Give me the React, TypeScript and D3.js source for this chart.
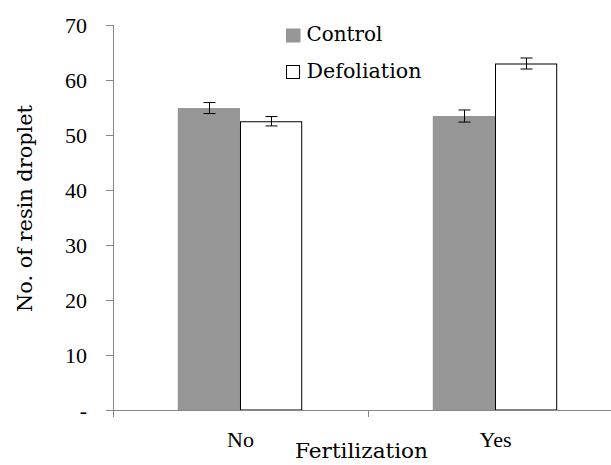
import React from "react";
import * as d3 from "d3";

const categories = ["No", "Yes"];
const seriesNames = ["Control", "Defoliation"];
const controlValues = [54.9, 53.45];
const defoliationValues = [52.5, 63.0];
const controlErrors = [1.0, 1.1];
const defoliationErrors = [0.85, 1.0];
const yTicks = [0, 10, 20, 30, 40, 50, 60, 70];
const yTickLabels = ["-", "10", "20", "30", "40", "50", "60", "70"];

const W = 611;
const H = 465;
const left = 113;
const top = 25;
const bottom = 410;

export default function App() {
  const y = d3.scaleLinear().domain([0, 70]).range([bottom, top]);
  const x0 = d3.scaleBand<string>().domain(categories).range([left, left + 510]).padding(0);
  const bw = x0.bandwidth();
  const x1 = d3.scaleBand<string>().domain(seriesNames).range([bw * 0.254, bw * 0.742]).padding(0);

  const series = [
    { name: "Control", values: controlValues, errors: controlErrors, fill: "#969696", stroke: "none" },
    { name: "Defoliation", values: defoliationValues, errors: defoliationErrors, fill: "#ffffff", stroke: "#000000" },
  ];

  const axisColor = "#878787";
  const tickFont: React.CSSProperties = { fontFamily: "Liberation Serif, Times New Roman, serif", fontSize: "22px" };
  const titleFont: React.CSSProperties = { fontFamily: "DejaVu Serif, Liberation Serif, serif", fontSize: "20.5px" };

  return (
    <svg width={W} height={H} style={{ position: "absolute", left: 0, top: 0, background: "#fff" }}>
      <rect x={0} y={0} width={W} height={H} fill="#fff" />
      {series.map((s) =>
        categories.map((c, i) => {
          const bx = (x0(c) as number) + (x1(s.name) as number);
          const bwid = x1.bandwidth();
          const by = y(s.values[i]);
          const o = s.stroke !== "none";
          return (
            <rect
              key={s.name + c}
              x={bx + (o ? 0.5 : 0)}
              y={by + (o ? 0.5 : 0)}
              width={bwid - (o ? 1 : 0)}
              height={bottom - by - (o ? 0.5 : 0)}
              fill={s.fill}
              stroke={s.stroke}
              strokeWidth={1}
            />
          );
        })
      )}
      {series.map((s) =>
        categories.map((c, i) => {
          const cx = Math.round((x0(c) as number) + (x1(s.name) as number) + x1.bandwidth() / 2) + 0.5;
          const yHi = y(s.values[i] + s.errors[i]);
          const yLo = y(s.values[i] - s.errors[i]);
          return (
            <g key={"e" + s.name + c} stroke="#000" strokeWidth={1}>
              <line x1={cx} x2={cx} y1={yHi} y2={yLo} />
              <line x1={cx - 6} x2={cx + 6} y1={yHi} y2={yHi} />
              <line x1={cx - 6} x2={cx + 6} y1={yLo} y2={yLo} />
            </g>
          );
        })
      )}
      <line x1={left + 0.5} x2={left + 0.5} y1={top} y2={bottom} stroke={axisColor} strokeWidth={1} />
      {yTicks.map((t, i) => (
        <g key={"yt" + t}>
          <line x1={left - 7} x2={left} y1={Math.round(y(t)) + 0.5} y2={Math.round(y(t)) + 0.5} stroke={axisColor} strokeWidth={1} />
          <text x={87} y={y(t)} dy="0.35em" textAnchor="end" style={tickFont} fill="#000">
            {yTickLabels[i]}
          </text>
        </g>
      ))}
      <line x1={left} x2={W} y1={bottom + 0.5} y2={bottom + 0.5} stroke={axisColor} strokeWidth={1} />
      {[left, left + bw, left + 2 * bw].map((tx, i) => (
        <line key={"xt" + i} x1={tx + 0.5} x2={tx + 0.5} y1={bottom} y2={bottom + 7} stroke={axisColor} strokeWidth={1} />
      ))}
      {categories.map((c) => (
        <text key={"xl" + c} x={(x0(c) as number) + bw / 2} y={446.5} textAnchor="middle" style={tickFont} fill="#000">
          {c}
        </text>
      ))}
      <text x={295} y={458} style={titleFont} fill="#000" textLength={133} lengthAdjust="spacingAndGlyphs">
        Fertilization
      </text>
      <text
        transform={`translate(31.5, 312) rotate(-90)`}
        style={titleFont}
        fill="#000"
        textLength={207}
        lengthAdjust="spacingAndGlyphs"
      >
        No. of resin droplet
      </text>
      <rect x={286} y={28.5} width={14.5} height={14} fill="#969696" />
      <text x={306.5} y={41} style={titleFont} fill="#000" textLength={76} lengthAdjust="spacingAndGlyphs">
        {seriesNames[0]}
      </text>
      <rect x={286.5} y={65.5} width={13} height={13} fill="#fff" stroke="#000" strokeWidth={1} />
      <text x={306.5} y={78.3} style={titleFont} fill="#000" textLength={115} lengthAdjust="spacingAndGlyphs">
        {seriesNames[1]}
      </text>
    </svg>
  );
}
